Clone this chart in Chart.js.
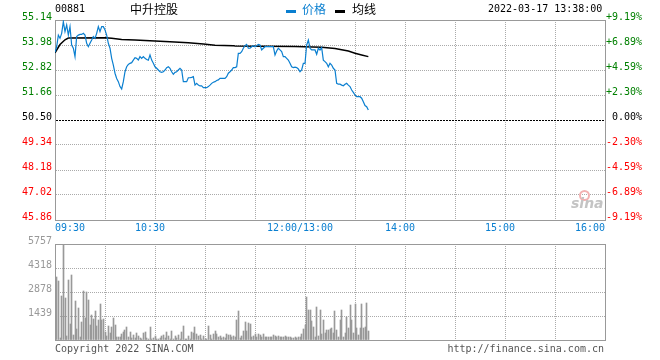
<!DOCTYPE html>
<html><head><meta charset="utf-8">
<script src="https://cdn.jsdelivr.net/npm/chart.js@4/dist/chart.umd.min.js"></script>
<style>
html,body{margin:0;padding:0;background:#fff;}
#wrap{position:relative;width:660px;height:360px;overflow:hidden;font-family:"DejaVu Sans Mono",monospace;}
canvas{position:absolute;left:0;}
#c1{top:0;}
#c2{top:235px;}
.t{position:absolute;white-space:nowrap;font-size:10px;line-height:12px;}
.cjk{font-family:"Noto Sans CJK SC",sans-serif;font-size:12px;line-height:14px;}
</style></head>
<body><div id="wrap">
<canvas id="c1" width="660" height="240"></canvas>
<canvas id="c2" width="660" height="125"></canvas>
<div class="t" style="left:55px;top:3px;color:#000">00881</div>
<div class="t cjk" style="left:130px;top:2px;color:#000">中升控股</div>
<div style="position:absolute;left:286px;top:10px;width:10px;height:3px;background:#0a7fd0"></div>
<div class="t cjk" style="left:302px;top:2px;color:#0a7fd0">价格</div>
<div style="position:absolute;left:335px;top:10px;width:10px;height:3px;background:#000"></div>
<div class="t cjk" style="left:352px;top:2px;color:#000">均线</div>
<div class="t" style="left:488px;top:3px;color:#000">2022-03-17 13:38:00</div>
<div style="position:absolute;left:579px;top:190px;width:7px;height:7px;border:2px solid #f2b0b0;border-radius:50%"></div>
<div class="t" style="left:571px;top:196px;font-family:'DejaVu Sans';font-size:14px;line-height:14px;font-weight:bold;font-style:italic;color:#c4c4c4">sina</div>
<div class="t" style="left:55px;top:343px;color:#555">Copyright 2022 SINA.COM</div>
<div class="t" style="right:56px;top:343px;color:#555;text-align:right">http://finance.sina.com.cn</div>
</div>
<script>
// ---- data ----
const basePrice = 50.50;
const priceTicks = [45.86, 47.02, 48.18, 49.34, 50.50, 51.66, 52.82, 53.98, 55.14];
const priceTickLabels = ['45.86','47.02','48.18','49.34','50.50','51.66','52.82','53.98','55.14'];
const pctTickLabels = ['-9.19%','-6.89%','-4.59%','-2.30%','0.00%','+2.30%','+4.59%','+6.89%','+9.19%'];
const volTicks = [0, 1439.25, 2878.5, 4317.75, 5757];
const volTickLabels = ['', '1439', '2878', '4318', '5757'];
const gridMinutes = [0,30,60,90,120,150,180,210,240,270,300,330];
const timeTickMinutes = [0, 60, 150, 210, 270, 330];
const timeTickLabels = ['09:30', '10:30', '12:00/13:00', '14:00', '15:00', '16:00'];

// price per minute from 09:30 (minute 0) to 13:38 (minute 188)
const prices = [
 53.64,53.90,54.44,54.29,54.52,55.06,54.60,54.91,54.44,54.83,
 53.98,53.83,53.44,54.37,54.44,54.47,54.47,54.52,54.44,54.06,
 53.90,54.06,54.21,54.37,54.29,54.52,54.83,54.60,54.83,54.83,
 54.68,54.44,54.06,53.83,53.36,53.05,52.67,52.43,52.28,52.05,
 51.94,52.28,52.74,52.97,53.08,53.13,53.16,53.28,53.39,53.36,
 53.28,53.44,53.36,53.44,53.36,53.31,53.28,53.52,53.28,53.13,
 52.97,52.90,52.82,52.74,52.71,52.74,52.82,52.93,52.97,52.90,
 52.74,52.62,52.71,52.74,52.82,52.90,52.82,52.28,52.28,52.28,
 52.46,52.46,52.48,52.51,52.12,52.20,52.12,52.08,52.08,52.00,
 52.00,52.00,52.05,52.12,52.20,52.25,52.28,52.33,52.36,52.43,
 52.43,52.43,52.43,52.51,52.67,52.74,52.82,52.93,52.93,52.97,
 53.59,53.59,53.67,53.83,53.95,54.01,53.83,53.83,53.90,53.95,
 53.90,53.95,54.01,53.98,53.75,53.83,53.90,53.90,53.90,53.90,
 53.90,53.90,53.52,53.70,53.83,53.75,53.67,53.44,53.44,53.36,
 53.28,53.13,52.97,52.93,52.95,52.93,52.87,52.74,52.82,53.13,
 53.13,53.98,54.21,53.83,53.75,53.75,53.75,53.55,53.83,53.75,
 53.86,53.28,53.21,53.13,52.97,53.13,53.05,52.90,52.82,52.20,
 52.16,52.16,52.12,52.09,52.16,52.20,52.12,52.05,51.89,51.78,
 51.66,51.58,51.58,51.58,51.51,51.35,51.17,51.12,50.96
];

// average price line, read at these minutes
const avgMinutes = [0,3,6,8,30,34,40,48,57,69,80,89,96,107,108,144,160,168,176,180,184,188];
const avgValues  = [53.62,54.00,54.22,54.30,54.32,54.29,54.24,54.21,54.18,54.13,54.09,54.03,53.97,53.95,53.93,53.91,53.87,53.82,53.70,53.60,53.52,53.44];

// volume per minute, starting at minute 1
const volStartMinute = 1;
const volumes = [
 3800,3510,120,2610,5757,2520,250,3570,980,3910,
 300,2360,650,1900,190,1070,2935,1300,2860,2420,
 880,1500,1270,1750,840,1170,2130,1170,1270,500,
 210,840,400,790,1320,880,190,150,150,350,
 500,600,790,190,500,115,270,120,400,210,
 115,80,400,460,120,80,770,80,120,250,
 80,80,120,250,300,120,500,250,80,560,
 80,250,120,300,80,500,840,80,80,250,
 80,500,400,790,380,250,300,80,250,80,
 80,840,270,80,385,537,345,190,230,100,
 190,100,345,290,325,190,230,190,1190,1730,
 100,230,540,1060,540,1000,960,190,230,380,
 150,380,290,190,380,150,190,150,150,190,
 290,230,190,230,150,190,150,230,150,190,
 150,100,100,150,100,150,150,380,630,900,
 2590,1820,1780,1110,770,190,2000,230,1820,380,
 1190,440,575,575,650,730,440,1730,575,190,
 1190,1780,190,420,1380,730,2110,1190,440,2150,
 730,290,730,2150,730,770,2210,540
];

// ---- styles ----
const FONT = {family: '"DejaVu Sans Mono", monospace', size: 10};
const BLUE = '#0a7fd0', GRID = '#aaaaaa', FRAME = '#999999';
const GREEN = '#008000', RED = '#ff0000';

const framePlugin = {
  id: 'frame',
  beforeDatasetsDraw(chart) {
    const {ctx, chartArea: a} = chart;
    ctx.save();
    ctx.strokeStyle = FRAME; ctx.lineWidth = 1; ctx.setLineDash([]);
    ctx.strokeRect(Math.round(a.left) + 0.5, Math.round(a.top) + 0.5,
      Math.round(a.right - a.left), Math.round(a.bottom - a.top));
    ctx.restore();
  }
};

// snap 1px volume bars to whole pixels so they stay crisp
const snapBarsPlugin = {
  id: 'snapBars',
  beforeDatasetsDraw(chart) {
    chart.getDatasetMeta(0).data.forEach(el => {
      el.x = Math.floor(el.x) + 0.5;
      el.y = Math.round(el.y);
    });
  }
};

const basePlugin = {
  id: 'baseLine',
  beforeDatasetsDraw(chart) {
    const {ctx, chartArea: a} = chart;
    const y = Math.round(chart.scales.y.getPixelForValue(basePrice)) + 0.5;
    ctx.save();
    ctx.strokeStyle = '#000'; ctx.lineWidth = 1; ctx.setLineDash([2, 1]);
    ctx.beginPath(); ctx.moveTo(a.left + 1, y); ctx.lineTo(a.right, y); ctx.stroke();
    ctx.restore();
  }
};

const timeLabelPlugin = {
  id: 'timeLabels',
  afterDraw(chart) {
    const xs = chart.scales.x, ctx = chart.ctx, last = timeTickMinutes.length - 1;
    ctx.save();
    ctx.font = '10px "DejaVu Sans Mono"';
    ctx.fillStyle = BLUE; ctx.textBaseline = 'middle';
    timeTickMinutes.forEach((m, i) => {
      const px = xs.getPixelForValue(m);
      ctx.textAlign = i === 0 ? 'left' : (i === last ? 'right' : 'center');
      const dx = (i === 0 || i === last) ? 0 : -5;
      ctx.fillText(timeTickLabels[i], px + dx, chart.chartArea.bottom + 8);
    });
    ctx.restore();
  }
};

function xAxis() {
  return {
    type: 'linear', min: 0, max: 330, offset: false,
    afterBuildTicks: s => { s.ticks = gridMinutes.map(v => ({value: v})); },
    afterFit: s => { s.height = 20; },
    ticks: {display: false},
    grid: {offset: false, drawTicks: false, color: c => (c.index === 0 || c.index === gridMinutes.length - 1) ? 'rgba(0,0,0,0)' : GRID},
    border: {display: true, color: FRAME, dash: [1, 1]}
  };
}

new Chart(document.getElementById('c1'), {
  type: 'line',
  data: {
    datasets: [
      {label: '价格', data: prices.map((v, i) => ({x: i, y: v})), borderColor: BLUE, borderWidth: 1.2, pointRadius: 0, tension: 0, fill: false, order: 1},
      {label: '均线', data: avgMinutes.map((m, i) => ({x: m, y: avgValues[i]})), borderColor: '#000', borderWidth: 1.5, pointRadius: 0, tension: 0, fill: false, order: 2}
    ]
  },
  options: {
    responsive: false, animation: false, events: [],
    layout: {padding: {top: 20, right: 18, left: 0, bottom: 0}},
    plugins: {legend: {display: false}, tooltip: {enabled: false}},
    scales: {
      x: xAxis(),
      y: {
        position: 'left', min: priceTicks[0], max: priceTicks[priceTicks.length - 1],
        afterBuildTicks: s => { s.ticks = priceTicks.map(v => ({value: v})); },
        afterFit: s => { s.width = 55; },
        ticks: {font: FONT, padding: 3, labelOffset: -3, autoSkip: false,
          callback: (v, i) => priceTickLabels[i],
          color: c => c.index < 4 ? RED : (c.index === 4 ? '#000' : GREEN)},
        grid: {drawTicks: false, color: c => (c.index === 0 || c.index === 4 || c.index === priceTicks.length - 1) ? 'rgba(0,0,0,0)' : GRID},
        border: {display: true, color: FRAME, dash: [1, 1]}
      },
      y2: {
        position: 'right', min: priceTicks[0], max: priceTicks[priceTicks.length - 1],
        afterBuildTicks: s => { s.ticks = priceTicks.map(v => ({value: v})); },
        afterFit: s => { s.width = 37; },
        ticks: {font: FONT, padding: 1, labelOffset: -3, autoSkip: false, crossAlign: 'far',
          callback: (v, i) => pctTickLabels[i],
          color: c => c.index < 4 ? RED : (c.index === 4 ? '#000' : GREEN)},
        grid: {display: false, drawTicks: false},
        border: {display: true, color: FRAME}
      }
    }
  },
  plugins: [framePlugin, basePlugin, timeLabelPlugin]
});

new Chart(document.getElementById('c2'), {
  type: 'bar',
  data: {
    datasets: [{label: '成交量', data: volumes.map((v, i) => ({x: i + volStartMinute, y: v})),
      backgroundColor: '#999999', barThickness: 1, borderWidth: 0}]
  },
  options: {
    responsive: false, animation: false, events: [],
    layout: {padding: {top: 5, right: 55, left: 0, bottom: 0}},
    plugins: {legend: {display: false}, tooltip: {enabled: false}},
    scales: {
      x: xAxis(),
      y: {
        position: 'left', min: 0, max: volTicks[volTicks.length - 1],
        afterBuildTicks: s => { s.ticks = volTicks.map(v => ({value: v})); },
        afterFit: s => { s.width = 55; },
        ticks: {font: FONT, padding: 3, labelOffset: -3, autoSkip: false, color: '#999999',
          callback: (v, i) => volTickLabels[i]},
        grid: {drawTicks: false, color: c => (c.index === 0 || c.index === volTicks.length - 1) ? 'rgba(0,0,0,0)' : GRID},
        border: {display: true, color: FRAME, dash: [1, 1]}
      }
    }
  },
  plugins: [framePlugin, snapBarsPlugin]
});
</script>
</body></html>
